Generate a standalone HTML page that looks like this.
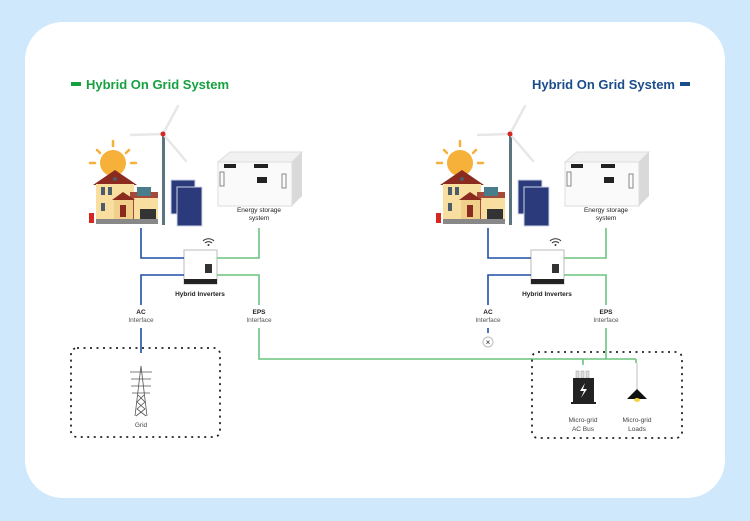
<!DOCTYPE html>
<html><head><meta charset="utf-8"><style>
html,body{margin:0;padding:0;background:#cfe8fb;}
svg{display:block;font-family:"Liberation Sans",sans-serif;}
</style></head><body>
<svg width="750" height="521" viewBox="0 0 750 521" xmlns="http://www.w3.org/2000/svg">
<rect x="0" y="0" width="750" height="521" fill="#cfe8fb"/>
<rect x="25" y="22" width="700" height="476" rx="38" fill="#fff"/>

<defs>
<g id="grp">
  <!-- sun -->
  <circle cx="113" cy="163" r="13" fill="#f6b13a"/>
  <g stroke="#f6b13a" stroke-width="2.5" stroke-linecap="round">
    <line x1="113" y1="141" x2="113" y2="146"/><line x1="97" y1="150" x2="100" y2="153"/>
    <line x1="129" y1="150" x2="126" y2="153"/><line x1="90" y1="163" x2="95" y2="163"/>
    <line x1="131" y1="163" x2="136" y2="163"/>
  </g>
  <!-- house -->
  <polygon points="93,185 115,170 137,185" fill="#8b2a1e"/>
  <rect x="96" y="184" width="38" height="36" fill="#f8dfa0"/>
  <rect x="130" y="192" width="28" height="28" fill="#a54a3a"/>
  <rect x="134" y="198" width="24" height="22" fill="#f8dfa0"/>
  <rect x="137" y="187" width="14" height="9" fill="#4a7d8c"/>
  <polygon points="112,200 123,192 135,200" fill="#8b2a1e"/>
  <rect x="114" y="200" width="19" height="20" fill="#f0cf8a"/>
  <rect x="120" y="205" width="6" height="12" fill="#8b2a1e"/>
  <rect x="101" y="187" width="4" height="8" fill="#4b5c6a"/><rect x="108" y="187" width="4" height="8" fill="#4b5c6a"/>
  <rect x="101" y="203" width="4" height="8" fill="#4b5c6a"/>
  <circle cx="115" cy="179" r="2" fill="#4b5c6a"/>
  <rect x="140" y="209" width="16" height="11" fill="#333"/>
  <rect x="96" y="219" width="62" height="5" fill="#888"/>
  <rect x="89" y="213" width="5" height="10" fill="#d3271f"/>
  <!-- turbine -->
  <rect x="162" y="135" width="3" height="90" fill="#5b7480"/>
  <g stroke="#e7e7e7" stroke-width="2.5" stroke-linecap="round">
    <line x1="163" y1="134" x2="178" y2="106"/>
    <line x1="163" y1="134" x2="131" y2="135"/>
    <line x1="163" y1="134" x2="186" y2="161"/>
  </g>
  <circle cx="163" cy="134" r="2.5" fill="#d3271f"/>
  <!-- solar -->
  <rect x="171" y="180" width="24" height="34" fill="#2b3a7a" stroke="#cfd5e5"/>
  <rect x="177" y="187" width="25" height="39" fill="#2b3a7a" stroke="#cfd5e5"/>
  <!-- battery -->
  <polygon points="218,162 230,152 302,152 292,162" fill="#f1f1f1" stroke="#ddd"/>
  <polygon points="292,162 302,152 302,196 292,206" fill="#d9d9d9"/>
  <rect x="218" y="162" width="74" height="44" fill="#fafafa" stroke="#ddd"/>
  <rect x="224" y="164" width="12" height="4" fill="#222"/><rect x="254" y="164" width="14" height="4" fill="#222"/>
  <rect x="257" y="177" width="10" height="6" fill="#222"/>
  <rect x="220" y="172" width="4" height="14" fill="none" stroke="#888"/>
  <rect x="282" y="174" width="4" height="14" fill="none" stroke="#888"/>
  <!-- inverter -->
  <rect x="184" y="250" width="33" height="34" fill="#fff" stroke="#bbb"/>
  <rect x="184" y="279" width="33" height="5" fill="#222"/>
  <rect x="205" y="264" width="7" height="9" fill="#333"/>
  <path d="M205,243 a5,5 0 0 1 7,0 M203,241 a8,8 0 0 1 11,0" stroke="#333" fill="none"/>
  <circle cx="208.5" cy="245" r="1" fill="#333"/>
  <!-- lines -->
  <polyline points="141,228 141,258 184,258" fill="none" stroke="#1f4fa8" stroke-width="1.6"/>
  <polyline points="184,275 141,275 141,305" fill="none" stroke="#1f4fa8" stroke-width="1.6"/>
  <polyline points="259,228 259,258 217,258" fill="none" stroke="#6cc37e" stroke-width="1.6"/>
  <polyline points="217,275 259,275 259,305" fill="none" stroke="#6cc37e" stroke-width="1.6"/>
</g>
</defs>
<use href="#grp"/>
<use href="#grp" transform="translate(347,0)"/>

<!-- titles -->
<rect x="71" y="82" width="10" height="4" fill="#17a040"/>
<text x="86" y="89" font-size="13" font-weight="bold" fill="#17a040">Hybrid On Grid System</text>
<text x="675" y="89" font-size="13" font-weight="bold" fill="#1b4c8c" text-anchor="end">Hybrid On Grid System</text>
<rect x="680" y="82" width="10" height="4" fill="#1b4c8c"/>

<g font-size="6.5" fill="#222" text-anchor="middle">
<text x="259" y="212">Energy storage</text><text x="259" y="220">system</text>
<text x="606" y="212">Energy storage</text><text x="606" y="220">system</text>
<text x="200" y="296" font-weight="bold">Hybrid Inverters</text>
<text x="547" y="296" font-weight="bold">Hybrid Inverters</text>
<text x="141" y="314" font-weight="bold">AC</text><text x="141" y="322" fill="#555">Interface</text>
<text x="259" y="314" font-weight="bold">EPS</text><text x="259" y="322" fill="#555">Interface</text>
<text x="488" y="314" font-weight="bold">AC</text><text x="488" y="322" fill="#555">Interface</text>
<text x="606" y="314" font-weight="bold">EPS</text><text x="606" y="322" fill="#555">Interface</text>
<text x="141" y="427" fill="#444">Grid</text>
<text x="583" y="422" fill="#444">Micro-grid</text><text x="583" y="431" fill="#444">AC Bus</text>
<text x="637" y="422" fill="#444">Micro-grid</text><text x="637" y="431" fill="#444">Loads</text>
</g>

<!-- lower connections -->
<line x1="141" y1="328" x2="141" y2="353" stroke="#1f4fa8" stroke-width="1.6"/>
<line x1="488" y1="328" x2="488" y2="333" stroke="#1f4fa8" stroke-width="1.6"/>
<circle cx="488" cy="342" r="5" fill="#fff" stroke="#bbb"/>
<text x="488" y="345" font-size="8" text-anchor="middle" fill="#222">×</text>
<polyline points="259,328 259,359 636,359" fill="none" stroke="#6cc37e" stroke-width="1.6"/>
<line x1="606" y1="328" x2="606" y2="359" stroke="#6cc37e" stroke-width="1.6"/>
<line x1="583" y1="359" x2="583" y2="365" stroke="#6cc37e" stroke-width="1.6"/>
<line x1="636" y1="359" x2="636" y2="363" stroke="#6cc37e" stroke-width="1.6"/>
<line x1="637" y1="363" x2="637" y2="390" stroke="#ccc" stroke-width="1.2"/>

<!-- dashed boxes -->
<rect x="71" y="348" width="149" height="89" rx="6" fill="none" stroke="#222" stroke-width="1.8" stroke-dasharray="2 4.5"/>
<rect x="532" y="352" width="150" height="86" rx="6" fill="none" stroke="#222" stroke-width="1.8" stroke-dasharray="2 4.5"/>

<!-- tower -->
<g stroke="#555" stroke-width="0.8" fill="none">
  <line x1="141" y1="366" x2="135" y2="416"/><line x1="141" y1="366" x2="147" y2="416"/>
  <line x1="130" y1="372" x2="152" y2="372"/><line x1="131" y1="379" x2="151" y2="379"/>
  <line x1="131" y1="386" x2="151" y2="386"/><line x1="132" y1="393" x2="150" y2="393"/>
  <path d="M138,395 L145,402 L137,409 L146,416 M144,395 L137,402 L145,409 L136,416"/>
</g>

<!-- AC bus -->
<g fill="#ddd" stroke="#999" stroke-width="0.5">
<rect x="576" y="371" width="3" height="7"/><rect x="581" y="371" width="3" height="7"/><rect x="586" y="371" width="3" height="7"/>
</g>
<rect x="573" y="378" width="21" height="24" fill="#222"/>
<rect x="571" y="402" width="25" height="2" fill="#222"/>
<path d="M585,383 L580,391 L584,391 L581,398 L587,389 L583,389 Z" fill="#fff"/>
<!-- lamp -->
<polygon points="627,399 637,389 647,399" fill="#111"/>
<ellipse cx="637" cy="400" rx="3" ry="2" fill="#f4d640"/>
</svg>
</body></html>
